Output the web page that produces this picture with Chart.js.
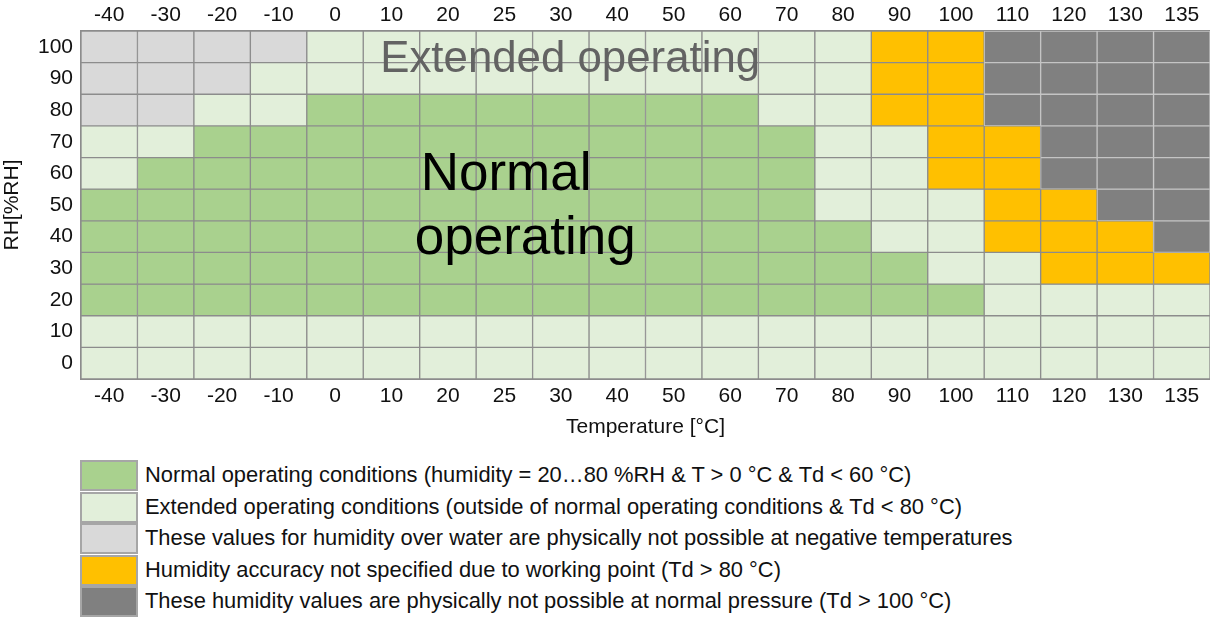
<!DOCTYPE html>
<html>
<head>
<meta charset="utf-8">
<script src="https://cdn.jsdelivr.net/npm/chart.js@4"></script>
<style>
  html, body { margin: 0; padding: 0; background: #fff; }
  body { width: 1210px; height: 619px; position: relative; overflow: hidden; font-family: "Liberation Sans", Arial, sans-serif; }
  #wrap { position: absolute; left: 0; top: 0; width: 1210px; height: 445px; }
  .sw { position: absolute; left: 80px; width: 54px; height: 27px; border: 2px solid #a6a6a6; }
  .lt { position: absolute; left: 145px; font-size: 21.9px; line-height: 26px; color: #111; white-space: nowrap; }
</style>
</head>
<body>
<div id="wrap"><canvas id="chart"></canvas></div>
<div id="legend"></div>
<script>
// Column and row labels
const temps = ['-40', '-30', '-20', '-10', '0', '10', '20', '25', '30', '40',
               '50', '60', '70', '80', '90', '100', '110', '120', '130', '135'];
const rhLevels = [100, 90, 80, 70, 60, 50, 40, 30, 20, 10, 0];

// One string per RH row, one letter per temperature column
// N normal, E extended, G not possible below 0, Y accuracy not specified, D not possible
const zoneRows = [
  'GGGGEEEEEEEEEEYYDDDD', // 100
  'GGGEEEEEEEEEEEYYDDDD', // 90
  'GGEENNNNNNNNEEYYDDDD', // 80
  'EENNNNNNNNNNNEEYYDDD', // 70
  'ENNNNNNNNNNNNEEYYDDD', // 60
  'NNNNNNNNNNNNNEEEYYDD', // 50
  'NNNNNNNNNNNNNNEEYYYD', // 40
  'NNNNNNNNNNNNNNNEEYYY', // 30
  'NNNNNNNNNNNNNNNNEEEE', // 20
  'EEEEEEEEEEEEEEEEEEEE', // 10
  'EEEEEEEEEEEEEEEEEEEE'  // 0
];

const zoneColors = { N: '#a9d18e', E: '#e2efda', G: '#d9d9d9', Y: '#ffc000', D: '#808080' };
const legendCodes = ['N', 'E', 'G', 'Y', 'D'];
const legendLabels = [
  'Normal operating conditions (humidity = 20\u202680 %RH & T > 0 \u00b0C & Td < 60 \u00b0C)',
  'Extended operating conditions (outside of normal operating conditions & Td < 80 \u00b0C)',
  'These values for humidity over water are physically not possible at negative temperatures',
  'Humidity accuracy not specified due to working point (Td > 80 \u00b0C)',
  'These humidity values are physically not possible at normal pressure (Td > 100 \u00b0C)'
];

const LINE = '#8c8c8c';
const tickFont = { family: 'Liberation Sans', size: 21 };

// each RH row is a dataset of floating bars spanning rh-5..rh+5
const datasets = rhLevels.map((rh, r) => {
  const codes = zoneRows[r].split('');
  return {
    label: rh + ' %RH',
    data: temps.map(() => [rh - 5, rh + 5]),
    backgroundColor: codes.map(c => zoneColors[c]),
    borderColor: codes.map(c => c === 'D' ? '#c4c4c4' : LINE),
    borderWidth: 1,
    borderSkipped: false,
    barPercentage: 1.0,
    categoryPercentage: 1.0,
    grouped: false,
    xAxisID: 'x'
  };
});

// the two big labels written over the grid
const areaText = {
  id: 'areaText',
  afterDatasetsDraw(chart) {
    const ctx = chart.ctx;
    const x = chart.scales.x;
    const colW = (x.right - x.left) / temps.length;
    ctx.save();
    ctx.textAlign = 'left';
    ctx.textBaseline = 'alphabetic';
    ctx.fillStyle = '#636363';
    ctx.font = '43.8px "Liberation Sans"';
    ctx.fillText('Extended operating', x.left + 5 * colW + 17, 72);
    ctx.fillStyle = '#000';
    ctx.font = '53px "Liberation Sans"';
    ctx.fillText('Normal', x.left + 6 * colW + 1, 190);
    ctx.fillText('operating', x.left + 6 * colW - 5, 254);
    ctx.restore();
  }
};

new Chart(document.getElementById('chart'), {
  type: 'bar',
  data: { labels: temps, datasets: datasets },
  options: {
    responsive: true,
    maintainAspectRatio: false,
    animation: false,
    layout: { padding: 0 },
    plugins: {
      legend: { display: false },
      tooltip: { enabled: false }
    },
    scales: {
      x: {
        type: 'category',
        position: 'bottom',
        offset: true,
        grid: { display: false, drawTicks: false },
        border: { display: true, color: LINE, width: 2 },
        ticks: { color: '#111', font: tickFont, padding: 5, maxRotation: 0, autoSkip: false },
        title: { display: true, text: 'Temperature [\u00b0C]', color: '#111', font: tickFont, padding: { top: 0, bottom: 5 } },
        afterFit: s => { s.height = 66; }
      },
      x2: {
        type: 'category',
        position: 'top',
        labels: temps,
        offset: true,
        grid: { display: false, drawTicks: false },
        border: { display: true, color: LINE, width: 2 },
        ticks: { color: '#111', font: tickFont, padding: 3, maxRotation: 0, autoSkip: false },
        afterFit: s => { s.height = 31; }
      },
      y: {
        type: 'linear',
        min: -5,
        max: 105,
        grid: { display: false, drawTicks: false },
        border: { display: true, color: LINE, width: 2 },
        afterBuildTicks: s => { s.ticks = rhLevels.map(v => ({ value: v })); },
        ticks: { color: '#111', font: tickFont, padding: 8 },
        title: { display: true, text: 'RH[%RH]', color: '#111', font: tickFont, padding: { top: 0, bottom: 0 } },
        afterFit: s => { s.width = 81; }
      }
    }
  },
  plugins: [areaText]
});

// legend below the chart
const legend = document.getElementById('legend');
legendCodes.forEach((code, i) => {
  const top = 460 + i * 31.5;
  const sw = document.createElement('div');
  sw.className = 'sw';
  sw.style.top = top + 'px';
  sw.style.background = zoneColors[code];
  legend.appendChild(sw);
  const t = document.createElement('div');
  t.className = 'lt';
  t.style.top = (top + 2) + 'px';
  t.textContent = legendLabels[i];
  legend.appendChild(t);
});
</script>
</body>
</html>
